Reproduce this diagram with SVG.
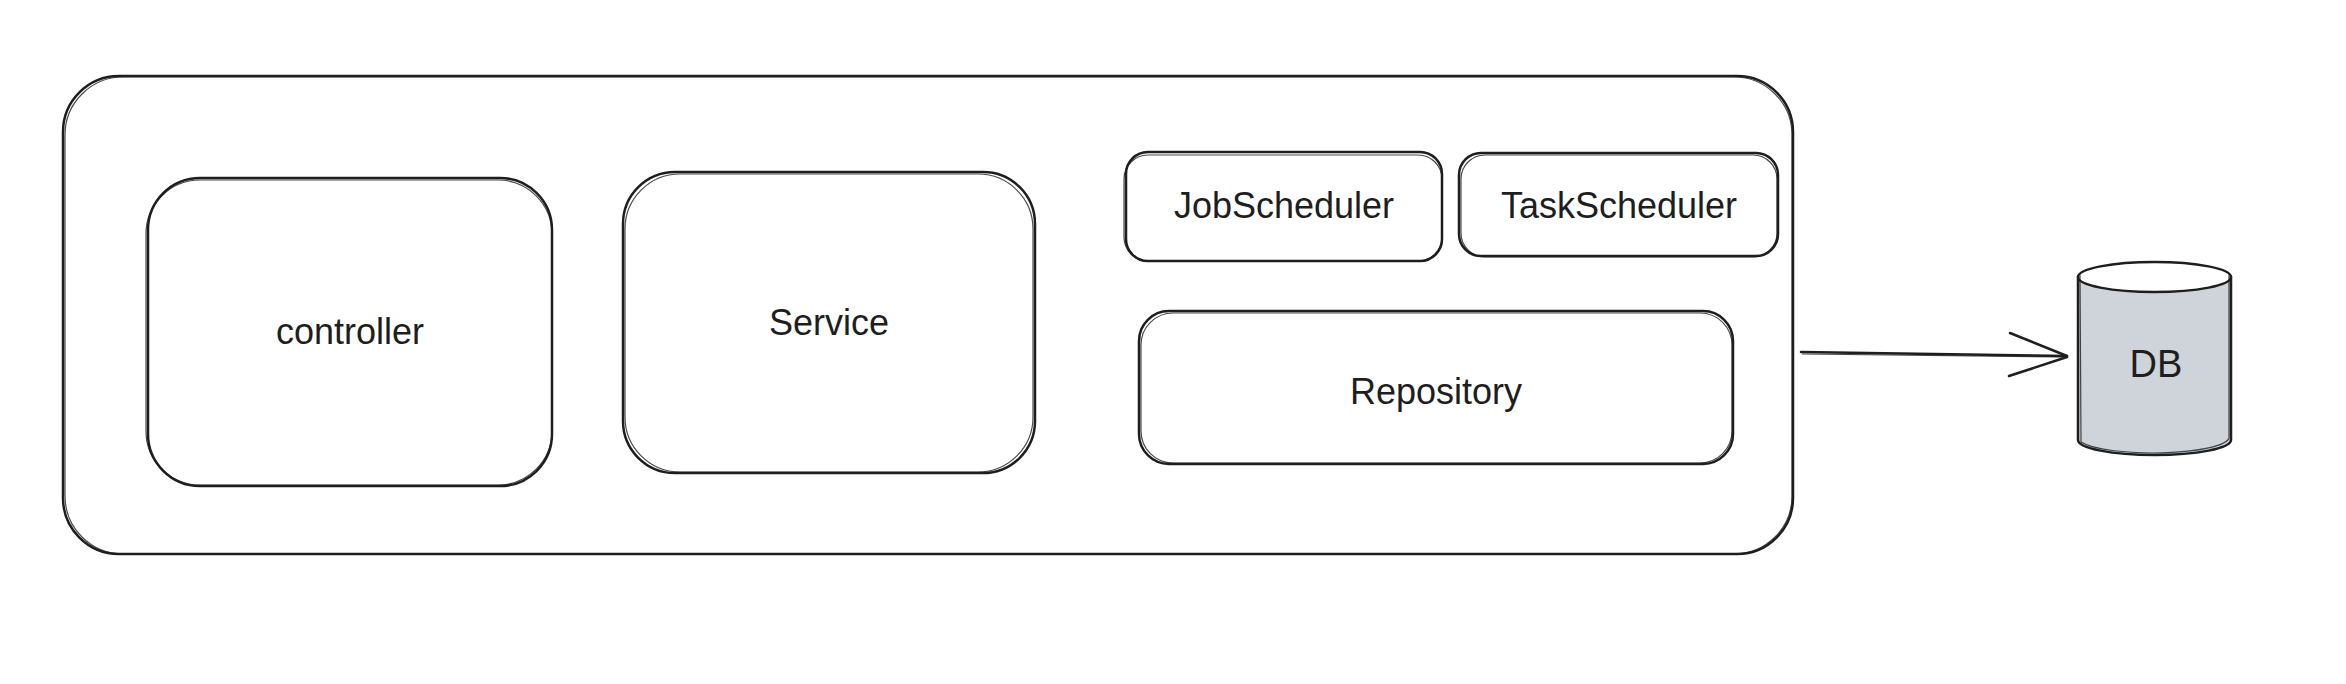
<svg xmlns="http://www.w3.org/2000/svg" width="2346" height="684" viewBox="0 0 2346 684">
<style>
.box{fill:none;stroke:#1e1e1e;stroke-width:2.5;stroke-linejoin:round}
.sk{fill:none;stroke:#1e1e1e;stroke-width:1.2;opacity:0.8}
.lbl{font-family:"Liberation Sans","Noto Sans",sans-serif;font-size:36px;fill:#1e1e1e;text-anchor:middle;dominant-baseline:central}
.ln{fill:none;stroke:#1e1e1e;stroke-width:2.5;stroke-linecap:round}
</style>
<rect width="2346" height="684" fill="#ffffff"/>
<g id="app">
<rect class="box" x="63" y="76" width="1730" height="478" rx="56" ry="56"/>
<rect class="sk" x="65" y="77" width="1727" height="477" rx="58" ry="58"/>
</g>
<g id="controller">
<rect class="box" x="148" y="178" width="404" height="308" rx="52" ry="52"/>
<rect class="sk" x="146" y="180" width="406" height="305" rx="54" ry="54"/>
<text class="lbl" x="350" y="331">controller</text>
</g>
<g id="service">
<rect class="box" x="623" y="172" width="412" height="301" rx="52" ry="52"/>
<rect class="sk" x="625" y="174" width="408" height="298" rx="55" ry="55"/>
<text class="lbl" x="829" y="322">Service</text>
</g>
<g id="jobscheduler">
<rect class="box" x="1126" y="152" width="316" height="109" rx="22" ry="22"/>
<rect class="sk" x="1124" y="155" width="318" height="106" rx="24" ry="24"/>
<text class="lbl" x="1284" y="205">JobScheduler</text>
</g>
<g id="taskscheduler">
<rect class="box" x="1459" y="153" width="319" height="103" rx="22" ry="22"/>
<rect class="sk" x="1461" y="155" width="316" height="102" rx="24" ry="24"/>
<text class="lbl" x="1619" y="205">TaskScheduler</text>
</g>
<g id="repository">
<rect class="box" x="1139" y="311" width="594" height="153" rx="30" ry="30"/>
<rect class="sk" x="1141" y="313" width="591" height="150" rx="32" ry="32"/>
<text class="lbl" x="1436" y="391">Repository</text>
</g>
<g id="db">
<path d="M2078,277 L2078,440 A76.5,15 0 0 0 2231,440 L2231,277 Z" fill="#ced4da" stroke="none"/>
<ellipse cx="2154.5" cy="277" rx="76.5" ry="15" fill="#ffffff" stroke="#1e1e1e" stroke-width="2.5"/>
<path class="ln" d="M2078,277 L2078,440 A76.5,15 0 0 0 2231,440 L2231,277"/>
<path class="sk" d="M2080,274 L2081,442 A76,16 0 0 0 2229,438 L2229,274"/>
<text class="lbl" x="2156" y="364" style="font-size:38px">DB</text>
</g>
<g id="connectors">
<path class="ln" d="M1801,352 L2067,356"/>
<path class="sk" d="M1802,354 L2066,357"/>
<path class="ln" d="M2010,333 L2067,356 M2009,376 L2067,357"/>
</g>
</svg>
